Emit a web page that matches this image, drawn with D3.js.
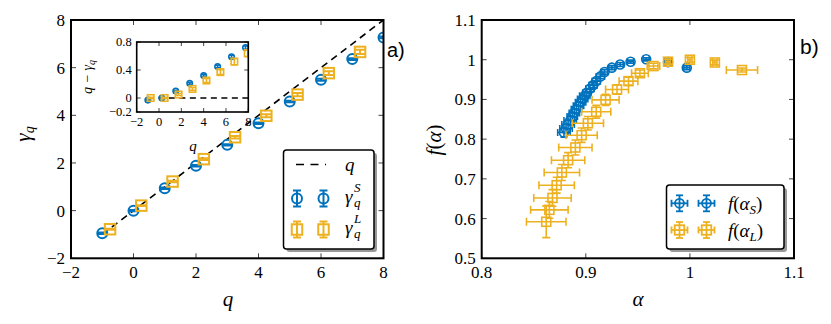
<!DOCTYPE html>
<html>
<head>
<meta charset="utf-8">
<script src="https://cdn.jsdelivr.net/npm/d3@7"></script>
<style>
  body { margin: 0; background: #fff; }
  svg { display: block; }
</style>
</head>
<body>
<svg id="chart" width="831" height="324"></svg>
<script>
// ---------- DATA ----------
// Panel a) main
const qS = [-1, 0, 1, 2, 3, 4, 5, 6, 7, 8];
const gammaS = [-0.95, 0.0, 0.94, 1.88, 2.76, 3.67, 4.58, 5.49, 6.36, 7.27];
const gammaSErr = [0.03, 0.03, 0.03, 0.03, 0.03, 0.03, 0.03, 0.04, 0.04, 0.04];
const qL = [-0.75, 0.25, 1.25, 2.25, 3.25, 4.25, 5.25, 6.25, 7.25];
const gammaL = [-0.78, 0.21, 1.22, 2.16, 3.08, 3.98, 4.87, 5.77, 6.66];
const gammaLErr = [0.02, 0.02, 0.03, 0.04, 0.05, 0.06, 0.07, 0.08, 0.09];
// Panel a) inset : q - gamma_q
const insetXS = [-1, 0.25, 1.5, 2.75, 4, 5.25, 6.5, 7.75];
const insetYS = [-0.03, 0.0, 0.10, 0.21, 0.32, 0.45, 0.59, 0.72];
const insetErrS = [0.01, 0.01, 0.01, 0.015, 0.015, 0.02, 0.02, 0.025];
const insetXL = [-0.75, 0.5, 1.75, 3.0, 4.25, 5.5, 6.75, 7.95];
const insetYL = [0.0, 0.0, 0.05, 0.13, 0.25, 0.37, 0.52, 0.64];
const insetErrL = [0.01, 0.01, 0.015, 0.02, 0.03, 0.035, 0.045, 0.05];
// Panel b) f(alpha)
const alphaS = [0.879, 0.881, 0.883, 0.885, 0.887, 0.889, 0.891, 0.893, 0.895, 0.897, 0.899, 0.901, 0.904, 0.907, 0.910, 0.914, 0.918, 0.925, 0.933, 0.943, 0.958, 0.979, 0.997];
const fS     = [0.817, 0.827, 0.837, 0.847, 0.857, 0.866, 0.875, 0.884, 0.893, 0.901, 0.909, 0.917, 0.927, 0.936, 0.946, 0.958, 0.969, 0.980, 0.988, 0.995, 1.001, 0.994, 0.980];
const alphaSErr = [0.006, 0.006, 0.006, 0.006, 0.005, 0.005, 0.005, 0.005, 0.005, 0.005, 0.005, 0.004, 0.004, 0.004, 0.004, 0.004, 0.003, 0.003, 0.003, 0.003, 0.003, 0.003, 0.003];
const fSErr = [0.012, 0.011, 0.011, 0.011, 0.010, 0.010, 0.010, 0.009, 0.009, 0.009, 0.008, 0.008, 0.008, 0.007, 0.007, 0.006, 0.006, 0.005, 0.005, 0.004, 0.004, 0.004, 0.005];
const alphaL = [0.862, 0.865, 0.868, 0.872, 0.877, 0.883, 0.890, 0.896, 0.902, 0.910, 0.919, 0.930, 0.941, 0.952, 0.965, 0.979, 1.000, 1.024, 1.050];
const fL     = [0.592, 0.622, 0.652, 0.684, 0.716, 0.747, 0.779, 0.810, 0.840, 0.869, 0.899, 0.925, 0.946, 0.966, 0.984, 0.995, 1.000, 0.993, 0.974];
const alphaLErr = [0.019, 0.018, 0.018, 0.017, 0.017, 0.016, 0.016, 0.015, 0.015, 0.014, 0.013, 0.011, 0.009, 0.008, 0.006, 0.002, 0.002, 0.002, 0.015];
const fLErr = [0.040, 0.021, 0.021, 0.020, 0.020, 0.019, 0.019, 0.018, 0.017, 0.016, 0.014, 0.012, 0.010, 0.008, 0.007, 0.006, 0.006, 0.006, 0.005];
// Tick values
const mainTicks = [-2, 0, 2, 4, 6, 8];
const insetXTicks = [-2, 0, 2, 4, 6, 8];
const insetYTicks = [-0.2, 0, 0.4, 0.8];
const alphaTicks = [0.8, 0.9, 1.0, 1.1];
const fTicks = [0.5, 0.6, 0.7, 0.8, 0.9, 1.0, 1.1];

const BLUE = "#0072BD", ORANGE = "#EDB120";
const SERIF = "'Liberation Serif', 'Times New Roman', serif";
const SANS = "'Liberation Sans', Arial, sans-serif";
const svg = d3.select("#chart");
const fmt = v => {
  const s = (Math.abs(v) < 1e-9) ? "0" : (Number.isInteger(v) ? String(v) : String(+v.toFixed(2)));
  return s.replace("-", "\u2212");
};
const txt = (g) => g.append("text").attr("font-family", SERIF).attr("fill", "#000");

function frame(g, x, y, xt, yt, opts) {
  const [x0, x1] = x.range(), [y0, y1] = y.range();
  const tl = opts.tickLen;
  const tg = g.append("g").attr("stroke", "#444").attr("stroke-width", 1);
  xt.forEach(v => {
    tg.append("line").attr("x1", x(v)).attr("x2", x(v)).attr("y1", y0).attr("y2", y0 - tl);
    tg.append("line").attr("x1", x(v)).attr("x2", x(v)).attr("y1", y1).attr("y2", y1 + tl);
    txt(g).attr("x", x(v)).attr("y", y0 + opts.xLabOff).attr("text-anchor", "middle")
      .attr("font-size", opts.fs).text(fmt(v));
  });
  yt.forEach(v => {
    tg.append("line").attr("y1", y(v)).attr("y2", y(v)).attr("x1", x0).attr("x2", x0 + tl);
    tg.append("line").attr("y1", y(v)).attr("y2", y(v)).attr("x1", x1).attr("x2", x1 - tl);
    txt(g).attr("x", x0 - opts.yLabOff).attr("y", y(v)).attr("dy", "0.35em").attr("text-anchor", "end")
      .attr("font-size", opts.fs).text(fmt(v));
  });
  g.append("rect").attr("x", x0).attr("y", y1).attr("width", x1 - x0).attr("height", y0 - y1)
    .attr("fill", "none").attr("stroke", "#000").attr("stroke-width", opts.frameW);
}

function errPoints(g, xs, ys, xe, ye, x, y, color, shape, size, cap, sw) {
  xs.forEach((xv, i) => {
    const cx = x(xv), cy = y(ys[i]);
    const pg = g.append("g").attr("stroke", color).attr("fill", "none").attr("stroke-width", sw);
    if (ye) {
      const ya = y(ys[i] - ye[i]), yb = y(ys[i] + ye[i]);
      pg.append("line").attr("x1", cx).attr("x2", cx).attr("y1", ya).attr("y2", yb);
      pg.append("line").attr("x1", cx - cap).attr("x2", cx + cap).attr("y1", ya).attr("y2", ya);
      pg.append("line").attr("x1", cx - cap).attr("x2", cx + cap).attr("y1", yb).attr("y2", yb);
    }
    if (xe) {
      const xa = x(xv - xe[i]), xb = x(xv + xe[i]);
      pg.append("line").attr("x1", xa).attr("x2", xb).attr("y1", cy).attr("y2", cy);
      pg.append("line").attr("x1", xa).attr("x2", xa).attr("y1", cy - cap).attr("y2", cy + cap);
      pg.append("line").attr("x1", xb).attr("x2", xb).attr("y1", cy - cap).attr("y2", cy + cap);
    }
    if (shape === "circle") pg.append("circle").attr("cx", cx).attr("cy", cy).attr("r", size / 2);
    else pg.append("rect").attr("x", cx - size / 2).attr("y", cy - size / 2).attr("width", size).attr("height", size);
  });
}

function legendMarker(g, cx, cy, color, shape, size, vbar, hbar, cap, sw) {
  const pg = g.append("g").attr("stroke", color).attr("fill", "none").attr("stroke-width", sw);
  if (vbar) {
    pg.append("line").attr("x1", cx).attr("x2", cx).attr("y1", cy - vbar).attr("y2", cy + vbar);
    pg.append("line").attr("x1", cx - cap).attr("x2", cx + cap).attr("y1", cy - vbar).attr("y2", cy - vbar);
    pg.append("line").attr("x1", cx - cap).attr("x2", cx + cap).attr("y1", cy + vbar).attr("y2", cy + vbar);
  }
  if (hbar) {
    pg.append("line").attr("y1", cy).attr("y2", cy).attr("x1", cx - hbar).attr("x2", cx + hbar);
    pg.append("line").attr("y1", cy - cap).attr("y2", cy + cap).attr("x1", cx - hbar).attr("x2", cx - hbar);
    pg.append("line").attr("y1", cy - cap).attr("y2", cy + cap).attr("x1", cx + hbar).attr("x2", cx + hbar);
  }
  if (shape === "circle") pg.append("circle").attr("cx", cx).attr("cy", cy).attr("r", size / 2);
  else pg.append("rect").attr("x", cx - size / 2).attr("y", cy - size / 2).attr("width", size).attr("height", size);
}

function legendBox(g, x0, y0, w, h) {
  g.append("rect").attr("x", x0 + 3).attr("y", y0 + 3).attr("width", w).attr("height", h).attr("rx", 3)
    .attr("fill", "#999");
  g.append("rect").attr("x", x0).attr("y", y0).attr("width", w).attr("height", h).attr("rx", 3)
    .attr("fill", "#fff").attr("stroke", "#000").attr("stroke-width", 1.5);
}

const defs = svg.append("defs");

// ================= Panel a) =================
const xA = d3.scaleLinear().domain([-2, 8]).range([71, 383.5]);
const yA = d3.scaleLinear().domain([-2, 8]).range([258.3, 20]);
defs.append("clipPath").attr("id", "clipA").append("rect")
  .attr("x", 71).attr("y", 20).attr("width", 312.5).attr("height", 238.3);
const gA = svg.append("g");
const pA = gA.append("g").attr("clip-path", "url(#clipA)");
pA.append("line").attr("x1", xA(-1)).attr("y1", yA(-1)).attr("x2", xA(8)).attr("y2", yA(8))
  .attr("stroke", "#000").attr("stroke-width", 1.6).attr("stroke-dasharray", "7,5");
errPoints(pA, qS, gammaS, null, gammaSErr, xA, yA, BLUE, "circle", 10, 5, 2);
errPoints(pA, qL, gammaL, null, gammaLErr, xA, yA, ORANGE, "rect", 10.5, 5, 2);
frame(gA, xA, yA, mainTicks, mainTicks, { tickLen: 5, fs: 17, xLabOff: 20, yLabOff: 6, frameW: 2 });
txt(gA).attr("x", 228).attr("y", 306).attr("text-anchor", "middle").attr("font-size", 21)
  .attr("font-style", "italic").text("q");
txt(gA).attr("transform", "translate(30,134) rotate(-90)").attr("text-anchor", "middle")
  .attr("font-size", 21).attr("font-style", "italic")
  .call(t => { t.append("tspan").text("γ"); t.append("tspan").attr("font-size", 14).attr("dy", 4).text("q"); });
gA.append("text").attr("x", 387).attr("y", 57).attr("font-family", SANS)
  .attr("font-size", 20).text("a)");

// Legend a)
const lgA = gA.append("g");
legendBox(lgA, 283.5, 150, 90.5, 99);
lgA.append("line").attr("x1", 296).attr("x2", 326).attr("y1", 164.5).attr("y2", 164.5)
  .attr("stroke", "#000").attr("stroke-width", 1.6).attr("stroke-dasharray", "8,6.5");
txt(lgA).attr("x", 345).attr("y", 171).attr("font-size", 19).attr("font-style", "italic").text("q");
legendMarker(lgA, 297, 198.5, BLUE, "circle", 10, 8, 0, 4, 2);
legendMarker(lgA, 323.5, 198.5, BLUE, "circle", 10, 8, 0, 4, 2);
legendMarker(lgA, 297, 229.5, ORANGE, "rect", 10.5, 8, 0, 4, 2);
legendMarker(lgA, 323.5, 229.5, ORANGE, "rect", 10.5, 8, 0, 4, 2);
[["S", 203], ["L", 234]].forEach(([s, yy]) => {
  txt(lgA).attr("x", 345).attr("y", yy).attr("font-size", 19).attr("font-style", "italic").text("γ");
  txt(lgA).attr("x", 354).attr("y", yy - 11).attr("font-size", 13).attr("font-style", "italic").text(s);
  txt(lgA).attr("x", 354).attr("y", yy + 4).attr("font-size", 13).attr("font-style", "italic").text("q");
});

// Inset
const xI = d3.scaleLinear().domain([-2, 8]).range([136.7, 248.3]);
const yI = d3.scaleLinear().domain([-0.2, 0.8]).range([112, 42]);
defs.append("clipPath").attr("id", "clipI").append("rect")
  .attr("x", 136.7).attr("y", 42).attr("width", 111.6).attr("height", 70);
const gI = svg.append("g");
gI.append("rect").attr("x", 136.7).attr("y", 42).attr("width", 111.6).attr("height", 70).attr("fill", "#fff");
const pI = gI.append("g").attr("clip-path", "url(#clipI)");
pI.append("line").attr("x1", xI(-1)).attr("x2", xI(8)).attr("y1", yI(0)).attr("y2", yI(0))
  .attr("stroke", "#000").attr("stroke-width", 1.5).attr("stroke-dasharray", "6,4.5");
errPoints(pI, insetXS, insetYS, null, insetErrS, xI, yI, BLUE, "circle", 5.5, 2.5, 1.6);
errPoints(pI, insetXL, insetYL, null, insetErrL, xI, yI, ORANGE, "rect", 6.5, 3, 1.6);
frame(gI, xI, yI, insetXTicks, insetYTicks, { tickLen: 4, fs: 12.5, xLabOff: 14, yLabOff: 5, frameW: 1.6 });
txt(gI).attr("x", 193).attr("y", 151).attr("text-anchor", "middle").attr("font-size", 15)
  .attr("font-style", "italic").text("q");
txt(gI).attr("transform", "translate(92,77) rotate(-90)").attr("text-anchor", "middle")
  .attr("font-size", 14).attr("font-style", "italic")
  .call(t => {
    t.append("tspan").text("q \u2212 γ");
    t.append("tspan").attr("font-size", 10).attr("dy", 3).text("q");
  });

// ================= Panel b) =================
const xB = d3.scaleLinear().domain([0.8, 1.1]).range([481.7, 794]);
const yB = d3.scaleLinear().domain([0.5, 1.1]).range([258.3, 20]);
defs.append("clipPath").attr("id", "clipB").append("rect")
  .attr("x", 481.7).attr("y", 20).attr("width", 312.3).attr("height", 238.3);
const gB = svg.append("g");
const pB = gB.append("g").attr("clip-path", "url(#clipB)");
errPoints(pB, alphaS, fS, alphaSErr, fSErr, xB, yB, BLUE, "circle", 9, 3.5, 1.6);
errPoints(pB, alphaL, fL, alphaLErr, fLErr, xB, yB, ORANGE, "rect", 9, 4, 1.6);
frame(gB, xB, yB, alphaTicks, fTicks, { tickLen: 5, fs: 17, xLabOff: 20, yLabOff: 6, frameW: 2 });
txt(gB).attr("x", 638).attr("y", 306).attr("text-anchor", "middle").attr("font-size", 21)
  .attr("font-style", "italic").text("α");
txt(gB).attr("transform", "translate(441,140) rotate(-90)").attr("text-anchor", "middle")
  .attr("font-size", 21)
  .call(t => {
    t.append("tspan").attr("font-style", "italic").text("f");
    t.append("tspan").text("(");
    t.append("tspan").attr("font-style", "italic").text("α");
    t.append("tspan").text(")");
  });
gB.append("text").attr("x", 800).attr("y", 54).attr("font-family", SANS)
  .attr("font-size", 21).text("b)");

// Legend b)
const lgB = gB.append("g");
legendBox(lgB, 666.5, 185, 117.5, 64);
legendMarker(lgB, 679.5, 203.3, BLUE, "circle", 9, 8, 8, 3.5, 1.8);
legendMarker(lgB, 706.5, 203.3, BLUE, "circle", 9, 8, 8, 3.5, 1.8);
legendMarker(lgB, 679.5, 230, ORANGE, "rect", 9.5, 8, 8, 3.5, 1.8);
legendMarker(lgB, 706.5, 230, ORANGE, "rect", 9.5, 8, 8, 3.5, 1.8);
[["S", 209.5], ["L", 236.5]].forEach(([s, yy]) => {
  const t = txt(lgB).attr("x", 728).attr("y", yy).attr("font-size", 19);
  t.append("tspan").attr("font-style", "italic").text("f");
  t.append("tspan").text("(");
  t.append("tspan").attr("font-style", "italic").text("α");
  t.append("tspan").attr("font-style", "italic").attr("font-size", 13).attr("dy", 4).text(s);
  t.append("tspan").attr("dy", -4).text(")");
});
</script>
</body>
</html>
